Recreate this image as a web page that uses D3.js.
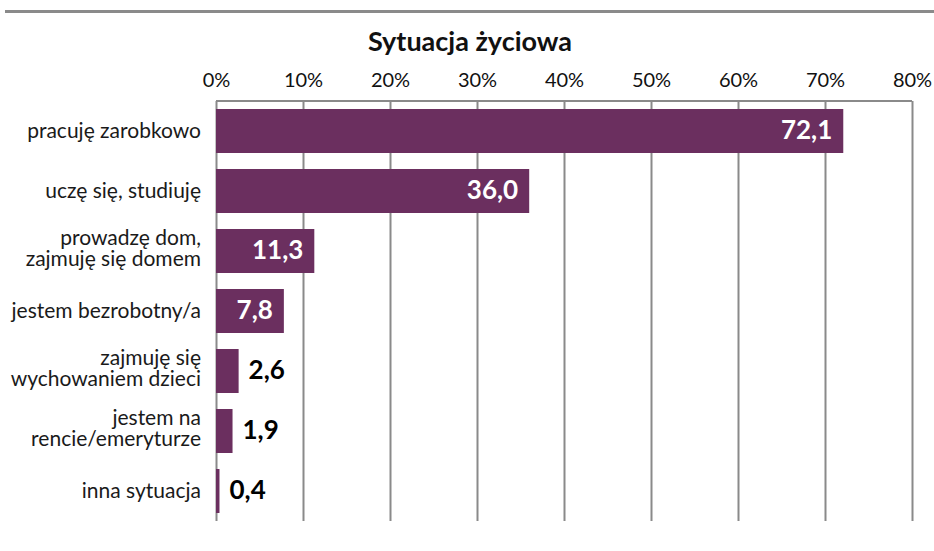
<!DOCTYPE html>
<html>
<head>
<meta charset="utf-8">
<script src="https://cdn.jsdelivr.net/npm/d3@7"></script>
<style>
  body { margin: 0; background: #fff; }
  svg { display: block; font-family: Lato, "Open Sans", sans-serif; }
</style>
</head>
<body>
<svg width="934" height="551"></svg>
<script>
const title = "Sytuacja życiowa";
const categories = [
  ["pracuję zarobkowo"],
  ["uczę się, studiuję"],
  ["prowadzę dom,", "zajmuję się domem"],
  ["jestem bezrobotny/a"],
  ["zajmuję się", "wychowaniem dzieci"],
  ["jestem na", "rencie/emeryturze"],
  ["inna sytuacja"]
];
const values = [72.1, 36.0, 11.3, 7.8, 2.6, 1.9, 0.4];
const ticks = [0, 10, 20, 30, 40, 50, 60, 70, 80];

let svg = d3.select("svg");
const grey = "#8a8a8a";
const purple = "#6b2f5f";

const x = d3.scaleLinear().domain([0, 80]).range([216, 912]);
const y = d3.scaleBand()
  .domain(d3.range(values.length))
  .range([101, 521])
  .paddingInner(16 / 60)
  .paddingOuter(8 / 60);

// top rule
svg.append("line")
  .attr("x1", 5).attr("x2", 934)
  .attr("y1", 11.5).attr("y2", 11.5)
  .attr("stroke", grey).attr("stroke-width", 3);

svg.append("text")
  .attr("x", 470).attr("y", 51)
  .attr("text-anchor", "middle")
  .attr("font-size", 27).attr("font-weight", "bold")
  .attr("fill", "#111")
  .text(title);

// grid + top axis
let axis = d3.axisTop(x)
  .tickValues(ticks)
  .tickFormat(d => d + "%")
  .tickSize(-420)
  .tickPadding(14);

let g = svg.append("g")
  .attr("transform", "translate(0,101)")
  .call(axis);
g.select(".domain").attr("stroke", grey).attr("stroke-width", 2).attr("d", "M216,0H912");
g.selectAll(".tick line").attr("stroke", grey).attr("stroke-width", 2);
g.selectAll(".tick text")
  .attr("font-family", "Lato, sans-serif")
  .attr("font-size", 20)
  .attr("fill", "#111");

// bars
svg.append("g")
  .selectAll("rect")
  .data(values)
  .enter()
  .append("rect")
  .attr("x", x(0))
  .attr("y", (d, i) => y(i))
  .attr("width", d => x(d) - x(0))
  .attr("height", y.bandwidth())
  .attr("fill", purple);

// value labels
svg.append("g")
  .selectAll("text")
  .data(values)
  .enter()
  .append("text")
  .attr("x", d => d > 5 ? x(d) - 11 : x(d) + 10)
  .attr("y", (d, i) => y(i) + y.bandwidth() / 2)
  .attr("dy", "0.32em")
  .attr("text-anchor", d => d > 5 ? "end" : "start")
  .attr("font-size", 26)
  .attr("font-weight", "bold")
  .attr("fill", d => d > 5 ? "#fff" : "#000")
  .text(d => d.toFixed(1).replace(".", ","));

// category labels
let labels = svg.append("g")
  .selectAll("text")
  .data(categories)
  .enter()
  .append("text")
  .attr("x", 201)
  .attr("y", (d, i) => y(i) + y.bandwidth() / 2)
  .attr("text-anchor", "end")
  .attr("font-size", 21)
  .attr("fill", "#1a1a1a");

labels.selectAll("tspan")
  .data(d => d.map((t, k) => ({ t: t, k: k, n: d.length })))
  .enter()
  .append("tspan")
  .attr("x", 201)
  .attr("dy", d => d.n === 1 ? "0.35em" : (d.k === 0 ? "-0.28em" : "0.98em"))
  .text(d => d.t);
</script>
</body>
</html>
